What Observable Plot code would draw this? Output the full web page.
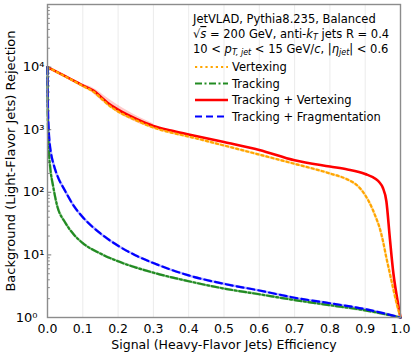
<!DOCTYPE html>
<html>
<head>
<meta charset="utf-8">
<script src="https://cdn.jsdelivr.net/npm/d3@7"></script>
<script src="https://cdn.jsdelivr.net/npm/@observablehq/plot@0.6"></script>
<style>
  html, body { margin: 0; padding: 0; background: #fff; }
  #chart svg { display: block; }
</style>
</head>
<body>
<div id="chart"></div>
<script>
// ---- data ----
const vtxEff = [0, 0.05, 0.1, 0.13, 0.15, 0.17, 0.2, 0.25, 0.3, 0.35, 0.4, 0.5, 0.6, 0.7, 0.8, 0.85, 0.88, 0.9, 0.91, 0.92, 0.93, 0.94, 0.95, 0.96, 0.97, 0.98, 0.99, 1.0];
const vtxRej = [10000, 7100, 5000, 4050, 3250, 2550, 1950, 1420, 1080, 900, 776, 560, 400, 285, 200, 160, 125, 90, 72, 55, 40, 28, 17, 9, 5, 2.8, 1.6, 1];

const trkEff = [0, 0.001, 0.004, 0.008, 0.016, 0.027, 0.05, 0.075, 0.1, 0.15, 0.2, 0.3, 0.4, 0.5, 0.6, 0.7, 0.8, 0.9, 1.0];
const trkRej = [10000, 1500, 450, 240, 125, 62, 33, 21, 15.4, 10.5, 7.9, 5.2, 3.8, 2.9, 2.35, 1.9, 1.57, 1.3, 1];

const tvEff = [0, 0.05, 0.1, 0.13, 0.15, 0.17, 0.2, 0.25, 0.3, 0.35, 0.4, 0.5, 0.6, 0.7, 0.8, 0.85, 0.9, 0.93, 0.94, 0.95, 0.96, 0.97, 0.98, 0.99, 1.0];
const tvRej = [10000, 7150, 5100, 4200, 3400, 2700, 2090, 1500, 1150, 970, 840, 635, 475, 325, 258, 232, 196, 163, 145, 118, 72, 18, 5, 2.1, 1];

const tvBandEff = [0.1, 0.13, 0.15, 0.17, 0.2, 0.23, 0.26, 0.3];
const tvBandHi  = [5300, 4600, 3900, 3200, 2450, 1950, 1580, 1250];
const tvBandLo  = [4900, 3800, 3000, 2450, 1850, 1500, 1250, 1050];

const tfEff = [0, 0.001, 0.003, 0.006, 0.01, 0.018, 0.027, 0.05, 0.075, 0.1, 0.15, 0.2, 0.25, 0.3, 0.4, 0.5, 0.6, 0.7, 0.8, 0.9, 1.0];
const tfRej = [10000, 2500, 1100, 620, 420, 270, 190, 105, 60, 40, 22, 14, 9.8, 7.4, 4.7, 3.45, 2.7, 2.07, 1.69, 1.36, 1];

const xTicks = [0, 0.1, 0.2, 0.3, 0.4, 0.5, 0.6, 0.7, 0.8, 0.9, 1.0];
const xGrid = [0.1, 0.2, 0.3, 0.4, 0.5, 0.6, 0.7, 0.8, 0.9];
const yTicks = [1, 10, 100, 1000, 10000];
const yTickLabels = ["10⁰", "10¹", "10²", "10³", "10⁴"];
const yMinor = [2,3,4,5,6,7,8,9,20,30,40,50,60,70,80,90,200,300,400,500,600,700,800,900,2000,3000,4000,5000,6000,7000,8000,9000,20000,30000,40000,50000,60000,70000,80000,90000];

const seriesNames = ["Vertexing", "Tracking", "Tracking + Vertexing", "Tracking + Fragmentation"];
const seriesColors = ["#ffa500", "#228b22", "#ff0000", "#0000ff"];
const seriesDash = ["2.2,3", "7,2.5,2,2.5", null, "7,4"];

const toRows = (xs, ys) => xs.map((x, i) => ({x, y: ys[i]}));
const vtx = toRows(vtxEff, vtxRej);
const trk = toRows(trkEff, trkRej);
const tv = toRows(tvEff, tvRej);
const tf = toRows(tfEff, tfRej);
const band = tvBandEff.map((x, i) => ({x, lo: tvBandLo[i], hi: tvBandHi[i]}));

const FONT = "DejaVu Sans, sans-serif";

const chart = Plot.plot({
  width: 415,
  height: 353,
  marginLeft: 47,
  marginRight: 15,
  marginTop: 4,
  marginBottom: 36,
  style: {fontFamily: FONT, fontSize: "12px", color: "#000", background: "#fff"},
  x: {domain: [0, 1]},
  y: {type: "log", domain: [1, 100000]},
  marks: [
    Plot.gridX(xGrid, {stroke: "#e6e6e6", strokeOpacity: 1, strokeWidth: 0.8}),
    Plot.areaY(band, {x: "x", y1: "lo", y2: "hi", fill: "#ff0000", fillOpacity: 0.2, curve: "monotone-x"}),
    // light halos (uncertainty bands) under the dashed lines
    Plot.line(vtx, {x: "x", y: "y", stroke: seriesColors[0], strokeOpacity: 0.3, strokeWidth: 2.6, curve: "monotone-x"}),
    Plot.line(trk, {x: "x", y: "y", stroke: seriesColors[1], strokeOpacity: 0.3, strokeWidth: 2.6, curve: "monotone-x"}),
    Plot.line(tf, {x: "x", y: "y", stroke: seriesColors[3], strokeOpacity: 0.3, strokeWidth: 2.6, curve: "monotone-x"}),
    Plot.line(tv, {x: "x", y: "y", stroke: seriesColors[2], strokeWidth: 2.6, curve: "monotone-x"}),
    Plot.line(vtx, {x: "x", y: "y", stroke: seriesColors[0], strokeWidth: 2.2, strokeDasharray: seriesDash[0], curve: "monotone-x"}),
    Plot.line(trk, {x: "x", y: "y", stroke: seriesColors[1], strokeWidth: 2.2, strokeDasharray: seriesDash[1], curve: "monotone-x"}),
    Plot.line(tf, {x: "x", y: "y", stroke: seriesColors[3], strokeWidth: 2.2, strokeDasharray: seriesDash[3], curve: "monotone-x"}),
    Plot.ruleY(yMinor, {x1: 0, x2: 0.008, stroke: "#555", strokeWidth: 0.7}),
    Plot.ruleY(yTicks, {x1: 0, x2: 0.012, stroke: "#555", strokeWidth: 0.8}),
    Plot.frame({stroke: "#8c8c8c", strokeWidth: 1.4}),
    Plot.axisX(xTicks, {
      tickSize: 0, tickPadding: 7, tickFormat: d => d.toFixed(1), fontSize: 12.5,
      label: "Signal (Heavy-Flavor Jets) Efficiency", labelAnchor: "center", labelArrow: "none", labelOffset: 31
    }),
    Plot.axisY(yTicks.slice(1), {
      tickSize: 0, tickPadding: 3, tickFormat: d => yTickLabels[yTicks.indexOf(d)], fontSize: 13,
      label: "Background (Light-Flavor Jets) Rejection", labelAnchor: "center", labelArrow: "none", labelOffset: 42
    }),
    Plot.axisY(yTicks.slice(0, 1), {
      tickSize: 0, tickPadding: 10, tickFormat: d => yTickLabels[yTicks.indexOf(d)], fontSize: 13, label: null
    })
  ]
});

document.getElementById("chart").appendChild(chart);

// ---- annotation text and legend ----
const svg = d3.select(chart);
const g = svg.append("g").attr("font-family", FONT).attr("font-size", 11.5).attr("fill", "#000").attr("text-anchor", "start");

function addLine(y, parts) {
  const t = g.append("text").attr("x", 193).attr("y", y);
  for (const p of parts) {
    const ts = t.append("tspan").text(p.t);
    if (p.i) ts.attr("font-style", "italic");
    if (p.sub) ts.attr("baseline-shift", "-25%").attr("font-size", 8);
    if (p.over) ts.style("text-decoration", "overline");
  }
}
addLine(23, [{t: "JetVLAD, Pythia8.235, Balanced"}]);
addLine(38, [{t: "√"}, {t: "s", i: true, over: true}, {t: " = 200 GeV, anti-"}, {t: "k", i: true}, {t: "T", i: true, sub: true}, {t: " jets R = 0.4"}]);
addLine(52.5, [{t: "10 < "}, {t: "p", i: true}, {t: "T, jet", i: true, sub: true}, {t: " < 15 GeV/"}, {t: "c", i: true}, {t: ", |"}, {t: "η", i: true}, {t: "jet", i: true, sub: true}, {t: "| < 0.6"}]);

const legY = [67, 83.5, 100, 116.5];
seriesNames.forEach((name, i) => {
  const ln = g.append("line")
    .attr("x1", 195).attr("x2", 228).attr("y1", legY[i]).attr("y2", legY[i])
    .attr("stroke", seriesColors[i]).attr("stroke-width", i === 2 ? 2.6 : 2.2);
  if (seriesDash[i]) ln.attr("stroke-dasharray", seriesDash[i]);
  g.append("text").attr("x", 232).attr("y", legY[i]).attr("dy", "0.35em").text(name);
});
</script>
</body>
</html>
